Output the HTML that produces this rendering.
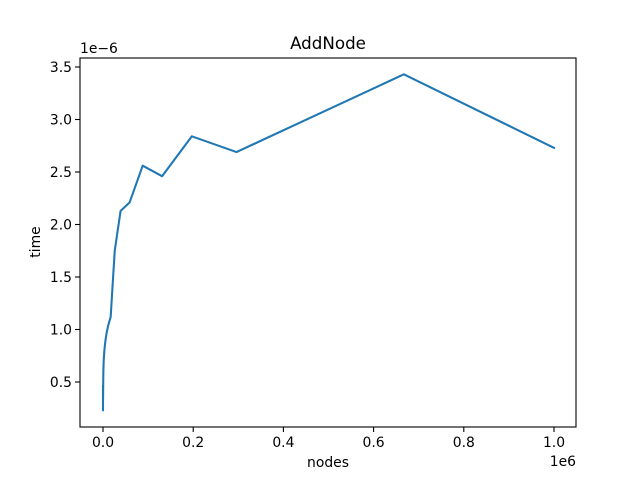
<!DOCTYPE html>
<html><head><meta charset="utf-8"><style>body{margin:0;background:#fff}svg{display:block}text{font-family:"DejaVu Sans","Liberation Sans",sans-serif;fill:#000}</style></head>
<body>
<svg id="c" width="640" height="480" xmlns="http://www.w3.org/2000/svg">
<rect width="640" height="480" fill="#fff"/>
<text x="328" y="49" font-size="16.7" text-anchor="middle">AddNode</text>
<text x="328" y="467" font-size="13.9" text-anchor="middle">nodes</text>
<text x="40" y="242" font-size="13.9" text-anchor="middle" transform="rotate(-90 40 242)">time</text>
<text x="80" y="53" font-size="13.9">1e−6</text>
<text x="576" y="466" font-size="13.9" text-anchor="end">1e6</text>
<g id="ticks"></g>
<polyline id="line" fill="none" stroke="#1f77b4" stroke-width="2.08" stroke-linejoin="round" stroke-linecap="square"/>
<rect x="80" y="58" width="496" height="369" fill="none" stroke="#000" stroke-width="1.1"/>
</svg>
<script>
const nodes=[1,2,3,5,8,12,20,30,50,80,150,300,500,800,1500,3000,5000,7700,11600,17000,26000,39000,59000,88000,131000,197000,296000,667000,1000000];
const times=[0.46,0.23,0.40,0.25,0.44,0.28,0.38,0.30,0.33,0.32,0.35,0.40,0.50,0.60,0.70,0.80,0.88,0.96,1.04,1.12,1.75,2.13,2.21,2.56,2.46,2.84,2.69,3.43,2.73];
const xTicks=[0,0.2,0.4,0.6,0.8,1.0];
const yTicks=[0.5,1.0,1.5,2.0,2.5,3.0,3.5];
const xs=v=>103+v/1e6*451;
const ys=v=>434.5-v*105;
const ns="http://www.w3.org/2000/svg";
const g=document.getElementById('ticks');
function mk(t,a){const e=document.createElementNS(ns,t);for(const k in a)e.setAttribute(k,a[k]);return e;}
xTicks.forEach(t=>{const x=xs(t*1e6);
const l=mk('line',{x1:x,x2:x,y1:427,y2:432,stroke:'#000','stroke-width':1.1});

g.appendChild(l);
const tx=mk('text',{x:x,y:447,'font-size':13.9,'text-anchor':'middle'});tx.textContent=t.toFixed(1);

g.appendChild(tx);});
yTicks.forEach(t=>{const y=ys(t);
const l=mk('line',{x1:75,x2:80,y1:y,y2:y,stroke:'#000','stroke-width':1.1});

g.appendChild(l);
const tx=mk('text',{x:72,y:y+5,'font-size':13.9,'text-anchor':'end'});tx.textContent=t.toFixed(1);

g.appendChild(tx);});
document.getElementById('line').setAttribute('points',nodes.map((n,i)=>xs(n)+','+ys(times[i])).join(' '));
</script>
</body></html>
